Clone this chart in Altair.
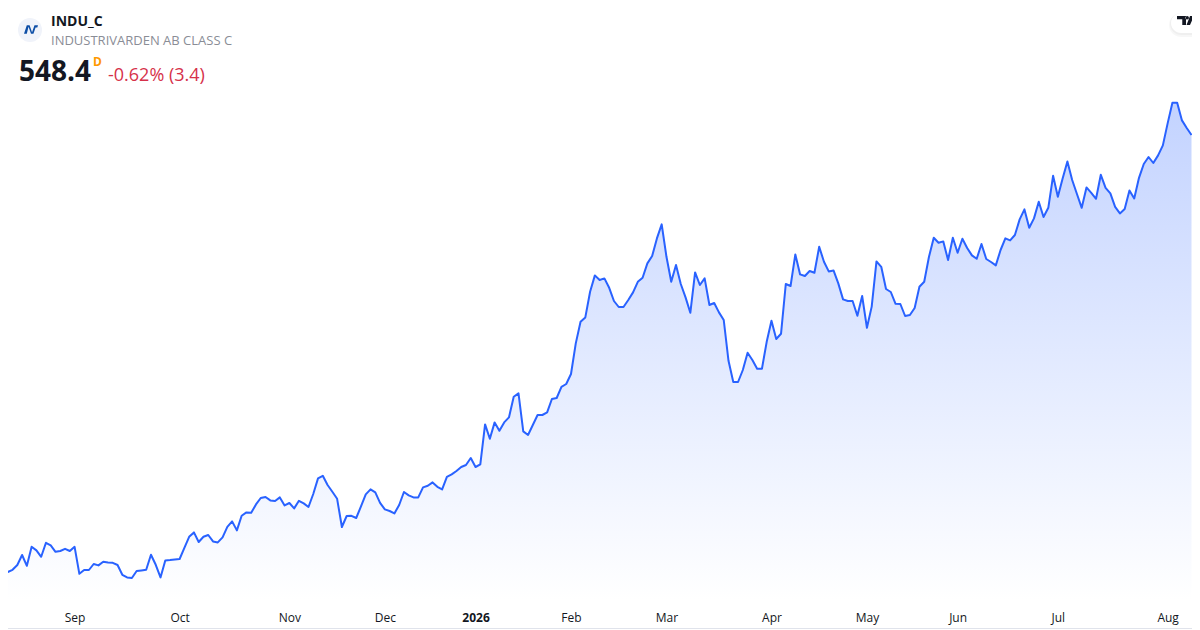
import altair as alt
import pandas as pd

prices = [
328.3,329.9,331.0,333.4,338.4,333.0,342.5,340.7,337.5,344.5,343.2,340.0,340.4,341.5,340.4,342.5,329.0,330.9,330.9,333.9,
333.2,335.0,334.7,334.5,333.4,328.5,327.2,326.9,330.4,330.7,331.0,338.5,333.5,327.2,335.7,335.9,336.2,336.4,342.0,347.5,
349.7,344.9,347.5,348.4,345.2,344.7,347.2,352.5,355.2,350.7,358.0,359.7,359.5,363.7,366.9,367.4,365.7,365.4,367.2,363.2,
364.4,361.7,365.5,364.2,362.4,368.9,376.7,378.0,373.4,370.0,366.5,352.4,357.9,358.0,356.9,362.7,368.7,371.2,369.7,364.5,
361.2,360.4,359.2,363.4,369.9,368.2,367.2,367.2,372.2,373.0,374.7,372.5,371.2,377.5,378.7,380.4,382.4,383.4,386.9,382.4,
383.7,403.7,396.5,404.7,400.5,404.7,407.2,417.5,419.2,400.2,398.4,403.4,408.4,408.4,409.7,416.4,416.9,422.5,423.9,428.9,
444.2,455.0,457.2,470.0,478.2,475.9,476.7,472.0,465.4,462.4,462.4,465.9,469.7,475.0,477.0,484.2,487.9,496.7,503.7,487.5,
475.0,483.4,473.9,467.2,459.5,479.7,473.4,476.7,463.4,464.4,459.7,455.9,435.5,424.9,424.9,430.9,439.5,435.9,431.5,431.5,
445.0,455.5,446.4,449.0,473.9,472.9,488.7,478.7,477.9,480.4,479.5,492.5,485.0,480.2,480.7,474.2,466.2,465.4,465.4,458.0,
467.9,452.0,462.6,485.2,482.5,471.4,469.9,464.0,463.9,457.9,458.4,461.9,472.5,475.0,487.5,497.0,494.5,495.2,485.9,497.0,
489.5,496.5,491.9,488.2,486.5,493.9,486.4,484.9,483.2,490.9,496.7,495.7,498.4,506.2,511.2,502.0,506.7,515.0,507.4,512.0,
528.0,517.5,526.7,535.2,525.9,518.9,512.0,522.2,519.5,516.5,528.5,522.0,519.2,512.5,509.2,511.4,520.7,516.7,527.0,533.9,
537.4,534.4,538.2,543.2,554.2,564.5,564.5,555.7,551.9,548.4,
]
sessions = list(range(len(prices)))
month_sessions = [15, 37, 60, 80, 99, 119, 139, 161, 181, 200, 221, 244]
month_labels = ["Sep", "Oct", "Nov", "Dec", "2026", "Feb", "Mar", "Apr", "May", "Jun", "Jul", "Aug"]

symbol = "INDU_C"
company = "INDUSTRIVARDEN AB CLASS C"
last_price = "548.4"
interval = "D"
change = "-0.62% (3.4)"

FONT = "Open Sans"
LINE = "#2962ff"

df = pd.DataFrame({"session": sessions, "price": prices})
one = pd.DataFrame({"k": [0]})

x_scale = alt.Scale(domain=[0, 249], range=[-5, 1183.5], nice=False, zero=False)
y_scale = alt.Scale(domain=[315.9, 611.9], nice=False, zero=False)

label_expr = "{}[indexof({}, datum.value)]".format(month_labels, month_sessions)
x_axis = alt.Axis(
    values=month_sessions, labelExpr=label_expr, title=None, grid=False, ticks=False, domain=False,
    labelFont=FONT, labelFontSize=12, labelColor="#131722", labelPadding=12, labelAngle=0,
    labelFontWeight=alt.condition("datum.value == 99", alt.value(700), alt.value(400)),
)

gradient = alt.Gradient(
    gradient="linear", x1=0, x2=0, y1=0, y2=1,
    stops=[alt.GradientStop(color="#c3d3ff", offset=0), alt.GradientStop(color="#ffffff", offset=1)],
)

area = alt.Chart(df).mark_area(fill=gradient).encode(
    x=alt.X("session:Q", scale=x_scale, axis=x_axis),
    y=alt.Y("price:Q", scale=y_scale, axis=None, stack=None),
    y2=alt.value(592),
)
line = alt.Chart(df).mark_line(color=LINE, strokeWidth=2, strokeJoin="round").encode(
    x=alt.X("session:Q", scale=x_scale),
    y=alt.Y("price:Q", scale=y_scale),
)


def label(text, px, py, size, color, weight=400, align="left"):
    return alt.Chart(one).mark_text(
        text=text, font=FONT, fontSize=size, color=color, fontWeight=weight, align=align, baseline="middle"
    ).encode(x=alt.value(px - 8), y=alt.value(py - 8))


def glyph(path, px, py, size, color):
    return alt.Chart(one).mark_point(shape=path, size=size, filled=True, fill=color, stroke=None, opacity=1).encode(
        x=alt.value(px - 8), y=alt.value(py - 8)
    )


def box(x1, x2, y1, y2, radius, color, opacity=1.0):
    return alt.Chart(one).mark_rect(cornerRadius=radius, color=color, opacity=opacity).encode(
        x=alt.value(x1 - 8), x2=alt.value(x2 - 8), y=alt.value(y1 - 8), y2=alt.value(y2 - 8)
    )


logo_bg = alt.Chart(one).mark_point(shape="circle", size=576, filled=True, fill="#f0f3fa", opacity=1).encode(
    x=alt.value(22), y=alt.value(22)
)
N_PATH = "M-1,0.6 L-0.6,-0.6 H-0.2 L0.15,0.4 L0.5,-0.6 H1 L0.9,-0.3 H0.65 L0.35,0.6 H0 L-0.35,-0.4 L-0.6,0.6 Z"
TV_PATH = (
    "M-1,-0.53 H0.06 V0.53 H-0.38 V-0.14 H-1 Z "
    "M0.0,-0.33 a0.2,0.2 0 1 0 0.4,0 a0.2,0.2 0 1 0 -0.4,0 Z "
    "M0.53,-0.53 H1 L0.53,0.53 H0.12 Z"
)

layers = [
    area, line,
    logo_bg,
    glyph(N_PATH, 31, 29.5, 196, "#0d4ea6"),
    label(symbol, 51, 22, 14, "#131722", 700),
    label(company, 51, 41, 13, "#8a8d96"),
    label(last_price, 19, 73, 28, "#131722", 700),
    label(interval, 93, 62, 12, "#ff9800", 700),
    label(change, 108, 76, 18, "#d6314a"),
    box(1169, 1212, 13, 37, 12, "#000000", 0.03),
    box(1170, 1212, 13, 35, 11, "#000000", 0.03),
    box(1171, 1212, 13, 33, 10, "#ffffff"),
    glyph(TV_PATH, 1185.5, 20.5, 289, "#131722"),
    box(0, 1200, 628, 629, 0, "#e0e3eb"),
]

chart = alt.layer(*layers).properties(
    width=1184, height=592,
    autosize=alt.AutoSizeParams(type="none"),
    padding={"left": 0, "top": 0, "right": 0, "bottom": 30},
    background="#ffffff",
).configure_view(stroke=None)

chart.save("out.html", embed_options={"renderer": "svg", "actions": False})
